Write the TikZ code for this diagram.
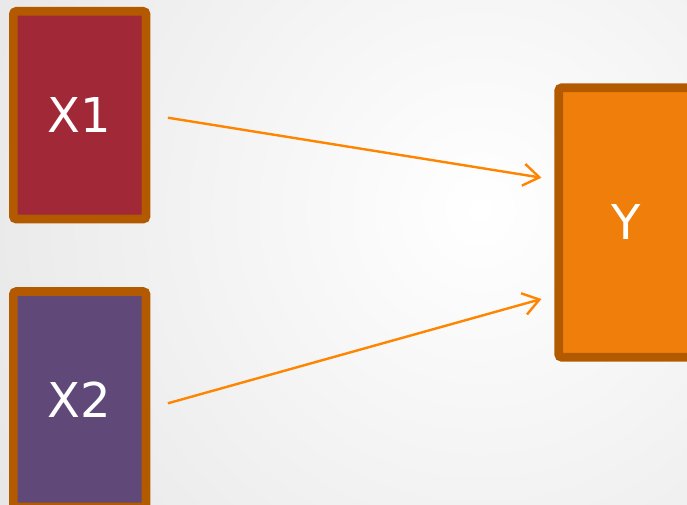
\documentclass[tikz,border=0pt]{standalone}
\usepackage{fontspec}
\setmainfont{DejaVu Sans}
\usetikzlibrary{arrows.meta}

\definecolor{rimbrown}{HTML}{B35A00}
\definecolor{xonefill}{HTML}{A02837}
\definecolor{xtwofill}{HTML}{604878}
\definecolor{yfill}{HTML}{EF7F0A}
\definecolor{linkorange}{HTML}{FF8400}
\definecolor{bgedge}{HTML}{D4D4D4}

\tikzset{
  varbox/.style={draw=rimbrown, line width=8.7pt, rounded corners=3pt,
    text=white, font=\fontsize{48}{58}\selectfont, inner sep=0pt},
  link/.style={draw=linkorange, line width=2.4pt,
    -{Straight Barb[length=16pt,width=22pt,line width=2.4pt]}}
}

\begin{document}
\begin{tikzpicture}[x=1pt,y=-1pt]
  \useasboundingbox (0,0) rectangle (687,505);
  \clip (0,0) rectangle (687,505);

  % soft radial backdrop
  \shade[inner color=white, outer color=bgedge] (480,210) circle (1000);

  % variable boxes
  \node[varbox, fill=xonefill, minimum width=132.7pt, minimum height=207.7pt]
    (X1) at (79.7,115.2) {X1};
  \node[varbox, fill=xtwofill, minimum width=132.7pt, minimum height=215.3pt]
    (X2) at (79.7,399.2) {X2};
  \node[varbox, fill=yfill, minimum width=134.6pt, minimum height=269.4pt]
    (Y) at (626,222.5) {Y};

  % links into Y
  \draw[link] ([xshift=17.5pt,yshift=-2.5pt]X1.east) -- ([xshift=-12.9pt,yshift=44.8pt]Y.west);
  \draw[link] ([xshift=17.5pt,yshift=-4.1pt]X2.east) -- ([xshift=-12.9pt,yshift=-76.5pt]Y.west);
\end{tikzpicture}
\end{document}
